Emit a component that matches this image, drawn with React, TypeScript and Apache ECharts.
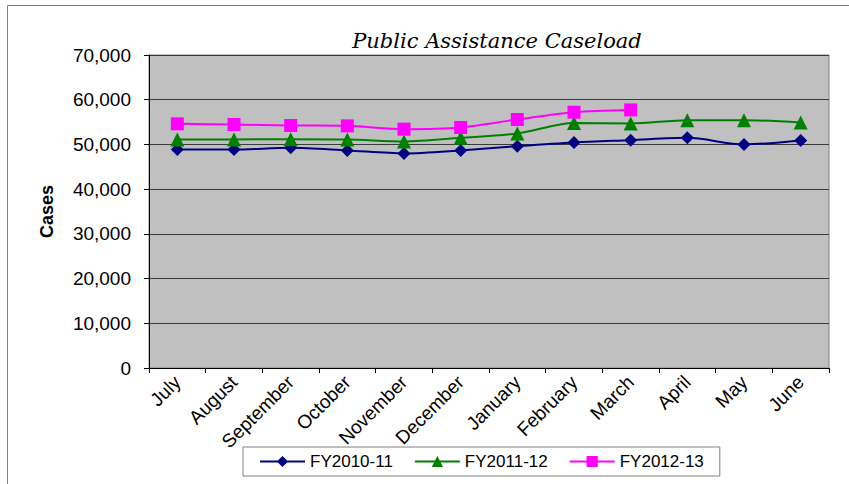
import React, { useEffect, useRef } from "react";
import * as echarts from "echarts";

const months = ["July", "August", "September", "October", "November", "December", "January", "February", "March", "April", "May", "June"];
const fy2010_11 = [48880, 48880, 49240, 48660, 47990, 48660, 49620, 50450, 50960, 51470, 50000, 50890];
const fy2011_12 = [51120, 51120, 51180, 51120, 50670, 51470, 52460, 54820, 54690, 55420, 55420, 54910];
const fy2012_13 = [54600, 54460, 54240, 54150, 53420, 53790, 55580, 57210, 57720];
const yTicks = { min: 0, max: 70000, interval: 10000 };

const FONT = "Liberation Sans, Arial, sans-serif";

export default function App() {
  const ref = useRef<HTMLDivElement>(null);
  useEffect(() => {
    if (!ref.current) return;
    const chart = echarts.init(ref.current, undefined, { renderer: "svg" });
    const mk = (name: string, data: number[], color: string, symbol: string, size: number) => ({
      name,
      type: "line",
      data,
      smooth: 0.3,
      symbol,
      symbolSize: size,
      showSymbol: true,
      lineStyle: { color, width: 2 },
      itemStyle: { color, borderWidth: 0 },
      emphasis: { disabled: true },
    });
    chart.setOption({
      animation: false,
      backgroundColor: "#ffffff",
      title: {
        text: "Public Assistance Caseload",
        left: 497,
        top: 30,
        textAlign: "center",
        padding: 0,
        textStyle: { fontFamily: "DejaVu Serif, serif", fontStyle: "italic", fontWeight: "normal", fontSize: 21, color: "#000" },
      },
      graphic: [
        {
          type: "rect",
          shape: { x: 7.5, y: 5.5, width: 1000, height: 1000 },
          style: { fill: "none", stroke: "#808080", lineWidth: 1 },
          silent: true,
          z: -1,
        },
      ],
      legend: {
        left: 243,
        top: 447,
        padding: [6, 16, 6, 16],
        itemWidth: 45,
        itemHeight: 14,
        itemGap: 21,
        backgroundColor: "#ffffff",
        borderColor: "#808080",
        borderWidth: 1,
        textStyle: { fontFamily: FONT, fontSize: 17, color: "#000", padding: [0, 0, 0, 0] },
        data: ["FY2010-11", "FY2011-12", "FY2012-13"],
        z: 10,
      },
      grid: {
        left: 149,
        right: 20,
        top: 55,
        bottom: 116,
        show: true,
        backgroundColor: "#c0c0c0",
        borderColor: "#808080",
        borderWidth: 1,
      },
      xAxis: {
        type: "category",
        data: months,
        boundaryGap: true,
        axisLine: { show: true, lineStyle: { color: "#000", width: 1 } },
        axisTick: { show: true, length: 5, lineStyle: { color: "#000" } },
        axisLabel: { rotate: 45, interval: 0, margin: 11, fontFamily: FONT, fontSize: 19, color: "#000" },
        splitLine: { show: false },
      },
      yAxis: {
        type: "value",
        min: yTicks.min,
        max: yTicks.max,
        interval: yTicks.interval,
        name: "Cases",
        nameLocation: "middle",
        nameRotate: 90,
        nameGap: 93,
        nameTextStyle: { fontFamily: FONT, fontSize: 18, fontWeight: "bold", color: "#000" },
        axisLine: { show: true, lineStyle: { color: "#000", width: 1 } },
        axisTick: { show: true, inside: false, length: 5, lineStyle: { color: "#000" } },
        axisLabel: {
          margin: 18,
          fontFamily: FONT,
          fontSize: 19,
          color: "#000",
          formatter: (v: number) => v.toLocaleString("en-US"),
        },
        splitLine: { show: true, lineStyle: { color: "#3a3a3a", width: 1 } },
      },
      series: [
        mk("FY2010-11", fy2010_11, "#000080", "diamond", 13),
        mk("FY2011-12", fy2011_12, "#008000", "triangle", 14),
        mk("FY2012-13", fy2012_13, "#ff00ff", "rect", 13),
      ],
    });
    return () => chart.dispose();
  }, []);
  return <div ref={ref} style={{ position: "absolute", left: 0, top: 0, width: 849, height: 484 }} />;
}
